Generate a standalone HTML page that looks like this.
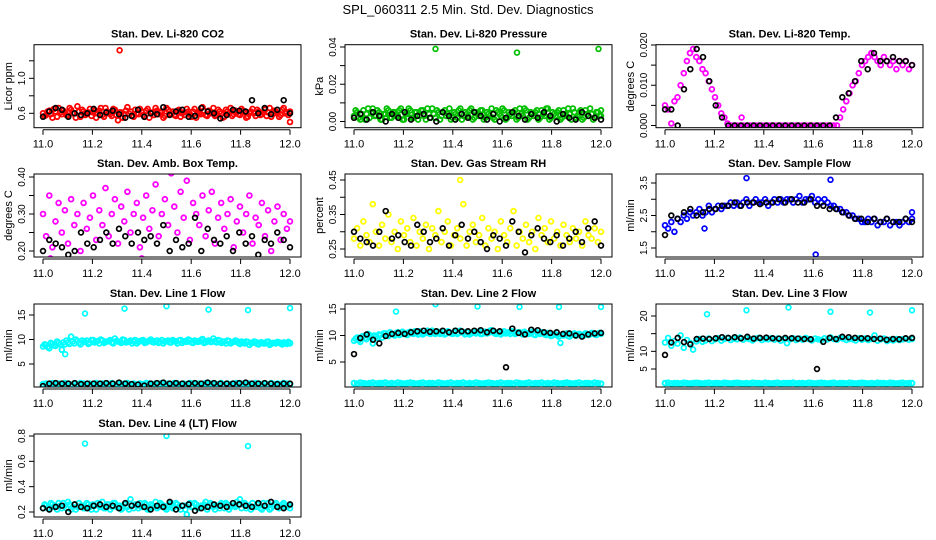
<!DOCTYPE html>
<html><head><meta charset="utf-8"><style>
html,body{margin:0;padding:0;background:#fff;}
svg{display:block;font-family:"Liberation Sans",Arial,sans-serif;}
</style></head><body>
<svg id="chart" width="936" height="540" viewBox="0 0 936 540" xmlns="http://www.w3.org/2000/svg">
<text x="468" y="14" text-anchor="middle" font-size="13">SPL_060311  2.5 Min. Std. Dev. Diagnostics</text>
</svg>
<script>
// ---------- data ----------
const xTicks = [11.0, 11.2, 11.4, 11.6, 11.8, 12.0];
const xTickLabels = ["11.0", "11.2", "11.4", "11.6", "11.8", "12.0"];

const p1Main = [0.6,0.58,0.63,0.55,0.62,0.66,0.59,0.61,0.57,0.64,0.6,0.68,0.56,0.62,0.59,0.65,0.61,0.55,0.63,0.58,0.66,0.6,0.57,0.64,0.52,0.61,0.59,0.67,0.62,0.56,0.6,0.65,0.58,0.63,0.55,0.61,0.66,0.59,0.62,0.57,0.64,0.6,0.58,0.63,0.56,0.61,0.65,0.59,0.62,0.55,0.6,0.67,0.58,0.63,0.61,0.57,0.64,0.6,0.56,0.62,0.66,0.59,0.61,0.58,0.63,0.55,0.6,0.65,0.57,0.62,0.59,0.64,0.61,0.56,0.63,0.6,0.58,0.66,0.61,0.5];
const p1Main2 = [0.57,0.62,0.59,0.65,0.56,0.61,0.63,0.58,0.66,0.6,0.55,0.62,0.64,0.58,0.61,0.57,0.63,0.6,0.66,0.56,0.62,0.59,0.65,0.58,0.61,0.55,0.63,0.6,0.57,0.64,0.59,0.62,0.56,0.65,0.6,0.58,0.63,0.61,0.55,0.66,0.59,0.62,0.57,0.64,0.6,0.58,0.62,0.56,0.65,0.61,0.59,0.63,0.57,0.6,0.66,0.58,0.62,0.55,0.64,0.6,0.57,0.63,0.59,0.65,0.61,0.56,0.62,0.6,0.64,0.58,0.61,0.57,0.66,0.59,0.62,0.56,0.64,0.6,0.58,0.62];
const p1Black = [0.56,0.62,0.66,0.64,0.56,0.6,0.58,0.6,0.65,0.58,0.61,0.63,0.59,0.55,0.57,0.64,0.56,0.6,0.59,0.67,0.58,0.62,0.64,0.56,0.57,0.66,0.62,0.6,0.54,0.58,0.64,0.63,0.62,0.75,0.6,0.66,0.59,0.64,0.75,0.6];
const p1OutT = [11.31];
const p1OutV = [1.32];

const p2Main = [0.003,0.005,0.001,0.006,0.004,0.002,0.007,0.003,0.005,0.001,0.004,0.006,0.002,0.005,0.003,0.007,0.001,0.004,0.006,0.002,0.005,0.003,0.006,0.001,0.004,0.007,0.002,0.005,0.003,0.006,0.004,0.001,0.005,0.002,0.007,0.003,0.004,0.006,0.001,0.005,0.003,0.006,0.002,0.004,0.007,0.001,0.005,0.003,0.006,0.002,0.004,0.005,0.001,0.007,0.003,0.006,0.002,0.004,0.005,0.001,0.006,0.003,0.007,0.002,0.004,0.005,0.001,0.006,0.003,0.004,0.007,0.002,0.005,0.001,0.006,0.003,0.004,0.002,0.005,0.003];
const p2Main2 = [0.006,0.002,0.004,0.001,0.007,0.005,0.003,0.006,0.001,0.004,0.007,0.002,0.005,0.003,0.006,0.001,0.004,0.007,0.002,0.005,0.001,0.006,0.003,0.007,0.002,0.004,0.006,0.001,0.005,0.003,0.007,0.002,0.004,0.006,0.001,0.005,0.003,0.007,0.002,0.004,0.006,0.001,0.005,0.003,0.002,0.006,0.004,0.007,0.001,0.005,0.003,0.006,0.002,0.004,0.007,0.001,0.005,0.003,0.006,0.002,0.004,0.007,0.001,0.005,0.003,0.006,0.002,0.004,0.007,0.001,0.005,0.003,0.006,0.002,0.004,0.007,0.001,0.005,0.003,0.006];
const p2Black = [0.002,0.004,0.001,0.005,0.003,0.0,0.004,0.002,0.005,0.001,0.003,0.004,0.002,0.0,0.005,0.003,0.001,0.004,0.002,0.005,0.003,0.001,0.004,0.0,0.002,0.005,0.003,0.001,0.004,0.002,0.005,0.003,0.0,0.004,0.002,0.001,0.005,0.003,0.002,0.001];
const p2OutT = [11.33, 11.66, 11.99];
const p2OutV = [0.039, 0.037, 0.039];

const p3Main = [0.005,0.004,0.0005,0.006,0.007,0.01,0.013,0.016,0.018,0.019,0.017,0.016,0.014,0.013,0.011,0.009,0.007,0.005,0.003,0.002,0.0005,0,0,0,0,0,0,0,0,0,0,0,0,0,0,0,0,0,0,0,0,0,0,0,0,0,0,0,0,0,0,0,0,0,0,0,0.002,0.004,0.006,0.008,0.01,0.011,0.013,0.015,0.016,0.017,0.018,0.017,0.016,0.015,0.017,0.016,0.015,0.016,0.014,0.016,0.015,0.016,0.014,0.015];
const p3Black = [0.004,0.004,0.0,0.009,0.014,0.019,0.017,0.011,0.005,0.002,0,0,0,0,0,0,0,0,0,0,0,0,0,0,0,0,0,0.002,0.007,0.008,0.011,0.016,0.014,0.018,0.016,0.016,0.017,0.016,0.016,0.015];
const p3OutT = [11.31];
const p3OutV = [0.002];

const p4Main = [0.3,0.24,0.35,0.21,0.28,0.33,0.25,0.31,0.22,0.34,0.27,0.3,0.2,0.33,0.26,0.29,0.35,0.23,0.31,0.27,0.37,0.24,0.3,0.34,0.22,0.32,0.28,0.36,0.25,0.3,0.33,0.21,0.29,0.35,0.26,0.31,0.38,0.24,0.3,0.34,0.27,0.41,0.32,0.25,0.36,0.29,0.39,0.23,0.33,0.3,0.27,0.35,0.24,0.31,0.36,0.22,0.29,0.33,0.26,0.3,0.34,0.21,0.28,0.32,0.25,0.3,0.35,0.22,0.29,0.27,0.33,0.24,0.31,0.2,0.28,0.32,0.23,0.3,0.26,0.28];
const p4Black = [0.2,0.23,0.22,0.21,0.19,0.2,0.25,0.22,0.21,0.23,0.25,0.22,0.26,0.24,0.22,0.25,0.23,0.24,0.22,0.27,0.2,0.23,0.21,0.22,0.29,0.2,0.26,0.23,0.22,0.24,0.2,0.25,0.22,0.24,0.19,0.23,0.22,0.25,0.23,0.21];
const p4OutT = [11.03, 11.4];
const p4OutV = [0.18, 0.18];

const p5Main = [0.28,0.31,0.26,0.33,0.29,0.27,0.38,0.3,0.26,0.32,0.28,0.35,0.27,0.3,0.25,0.33,0.29,0.31,0.27,0.34,0.26,0.3,0.28,0.32,0.25,0.31,0.29,0.36,0.27,0.3,0.33,0.26,0.29,0.31,0.28,0.38,0.26,0.3,0.32,0.27,0.29,0.34,0.26,0.31,0.28,0.3,0.25,0.33,0.29,0.27,0.31,0.36,0.26,0.3,0.28,0.32,0.27,0.3,0.25,0.34,0.29,0.31,0.27,0.33,0.28,0.3,0.26,0.32,0.29,0.27,0.31,0.28,0.3,0.26,0.33,0.29,0.28,0.31,0.27,0.3];
const p5Black = [0.3,0.28,0.27,0.26,0.3,0.36,0.28,0.29,0.27,0.26,0.32,0.3,0.27,0.28,0.31,0.26,0.29,0.32,0.28,0.3,0.27,0.25,0.29,0.28,0.26,0.33,0.3,0.24,0.29,0.31,0.28,0.27,0.29,0.26,0.28,0.3,0.27,0.31,0.33,0.26];
const p5OutT = [11.43];
const p5OutV = [0.45];

const p6Main = [2.2,2.1,2.3,2.0,2.4,2.3,2.5,2.4,2.6,2.5,2.6,2.7,2.5,2.6,2.8,2.6,2.7,2.8,2.7,2.8,2.8,2.9,2.8,2.9,2.8,2.9,3.0,2.8,2.9,3.0,2.9,2.9,3.0,2.8,2.9,3.0,2.9,3.0,2.9,3.0,3.0,2.9,3.0,3.1,2.9,3.0,3.0,3.1,2.9,3.0,2.9,3.0,2.9,2.8,2.8,2.7,2.7,2.6,2.6,2.5,2.5,2.4,2.4,2.3,2.3,2.4,2.3,2.4,2.2,2.3,2.3,2.4,2.2,2.3,2.3,2.2,2.3,2.4,2.3,2.4];
const p6Black = [1.9,2.5,2.4,2.6,2.7,2.5,2.6,2.7,2.7,2.8,2.8,2.9,2.8,2.9,2.9,2.85,2.9,2.9,3.0,2.9,3.0,2.9,2.9,3.0,2.8,2.8,2.7,2.7,2.6,2.5,2.4,2.4,2.3,2.4,2.3,2.4,2.3,2.3,2.4,2.3];
const p6OutT = [11.33, 11.67, 11.61, 11.16, 12.0];
const p6OutV = [3.65, 3.6, 1.3, 2.1, 2.6];

const p7Main = [8.6,8.9,8.2,9.1,8.7,9.3,7.9,9.0,9.4,10.6,9.2,9.7,9.0,9.5,9.8,9.3,9.9,9.6,9.2,9.8,9.5,9.7,9.4,10.2,9.6,9.3,9.9,9.5,9.8,9.6,9.2,9.7,9.9,9.4,9.8,9.5,9.7,9.3,9.9,9.6,9.8,9.4,9.7,9.2,9.9,9.6,9.5,9.8,9.3,9.7,9.6,10.1,9.4,9.8,9.5,9.7,9.9,9.3,9.6,9.8,9.2,9.5,9.7,9.1,9.4,9.6,8.9,9.3,9.5,9.0,9.4,9.2,9.6,9.1,9.3,9.5,9.2,9.4,9.1,9.3];
const p7Main2 = [9.0,8.5,9.3,8.8,9.6,9.0,9.4,9.8,9.1,9.6,10.0,9.3,9.8,9.5,9.1,9.9,9.4,9.7,10.0,9.3,9.6,9.9,9.2,9.7,9.5,10.0,9.4,9.6,9.2,9.9,9.5,9.8,9.3,9.6,10.0,9.4,9.8,9.5,9.2,9.7,9.4,9.9,9.6,9.8,9.3,9.7,10.0,9.4,9.8,9.5,9.9,9.3,9.7,9.5,10.2,9.4,9.8,9.6,9.2,9.7,9.4,9.8,9.3,9.6,9.2,9.5,9.3,9.6,9.1,9.4,9.2,9.5,8.9,9.3,9.2,9.4,9.0,9.3,9.5,9.2];
const p7Low = [0.9,1.0,0.8,1.1,0.9,1.0,0.9,1.1,1.0,0.8,1.0,0.9,1.1,1.0,0.9,1.0,0.8,1.1,0.9,1.0,1.0,0.9,1.1,0.8,1.0,0.9,1.0,1.1,0.9,1.0,0.8,1.0,0.9,1.1,1.0,0.9,1.0,0.8,1.1,0.9,1.0,0.9,1.1,1.0,0.8,1.0,0.9,1.1,1.0,0.9,1.0,0.8,1.1,0.9,1.0,1.0,0.9,1.1,0.8,1.0,0.9,1.0,1.1,0.9,1.0,0.8,1.0,0.9,1.1,1.0,0.9,1.0,0.8,1.1,0.9,1.0,0.9,1.1,1.0,0.9];
const p7Black = [0.5,1.0,1.1,1.0,1.0,1.1,0.9,1.0,1.0,1.0,1.1,1.0,1.2,1.0,0.9,0.8,0.6,1.0,1.1,1.2,1.0,1.1,1.0,1.0,1.1,1.0,1.2,1.1,1.0,1.0,1.0,1.1,1.2,1.0,1.0,1.1,1.0,0.9,1.0,1.0];
const p7OutT = [11.09, 11.17, 11.33, 11.5, 11.67, 11.83, 12.0];
const p7OutV = [7.0, 15.3, 16.3, 16.8, 16.1, 16.0, 16.4];

const p8Main = [9.0,9.6,8.8,9.9,9.3,10.1,8.5,9.8,10.2,9.6,10.4,9.9,10.3,10.0,10.6,10.2,10.5,10.1,10.7,10.3,10.5,10.8,10.2,10.6,10.4,10.9,10.3,10.7,10.5,10.2,10.8,10.4,10.6,10.3,10.9,10.5,10.7,10.2,10.6,10.4,10.8,10.3,10.7,10.5,11.0,10.4,10.6,10.2,10.8,10.5,10.3,10.7,10.4,10.6,10.2,10.5,10.3,10.7,10.1,10.4,10.6,10.2,10.5,9.9,10.3,10.1,8.6,10.0,10.4,9.8,10.2,10.0,10.3,9.9,10.4,10.1,10.5,10.2,10.3,10.4];
const p8Main2 = [9.4,9.1,9.8,9.5,10.3,9.7,10.0,9.5,10.1,10.4,10.0,10.6,10.2,10.5,10.1,10.7,10.3,10.6,10.4,10.8,10.2,10.6,10.4,10.9,10.3,10.7,10.5,10.3,10.8,10.4,10.6,10.3,10.9,10.5,10.7,10.2,10.6,10.4,10.8,10.5,10.3,10.7,10.4,10.9,10.6,10.3,10.7,10.5,10.4,10.6,10.8,10.3,10.6,10.4,10.7,10.3,10.5,10.2,10.6,10.3,10.4,10.1,10.3,10.0,10.2,9.8,10.1,10.3,9.9,10.2,10.4,10.1,10.2,10.0,10.3,10.2,10.4,10.1,10.5,10.3];
const p8Low = [1.0,0.9,1.1,1.0,0.9,1.0,1.1,0.9,1.0,1.0,1.1,0.9,1.0,0.9,1.1,1.0,0.9,1.0,1.1,1.0,0.9,1.0,1.1,0.9,1.0,1.0,0.9,1.1,1.0,0.9,1.0,1.1,0.9,1.0,1.0,1.1,0.9,1.0,0.9,1.1,1.0,0.9,1.0,1.1,1.0,0.9,1.0,1.1,0.9,1.0,1.0,0.9,1.1,1.0,0.9,1.0,1.1,0.9,1.0,1.0,1.1,0.9,1.0,0.9,1.1,1.0,0.9,1.0,1.1,1.0,0.9,1.0,1.1,0.9,1.0,1.0,0.9,1.1,1.0,0.9];
const p8Black = [6.5,9.5,10.2,9.2,8.5,9.9,10.3,10.5,10.3,10.6,10.8,10.9,10.7,10.8,10.9,10.6,10.9,10.8,10.8,10.9,11.0,10.6,10.9,10.8,4.0,11.3,10.5,10.2,11.1,11.0,10.6,10.5,10.6,10.3,10.4,10.0,9.8,10.2,10.4,10.5];
const p8OutT = [11.17, 11.33, 11.5, 11.67, 11.83, 12.0];
const p8OutV = [14.5, 15.9, 15.5, 15.4, 15.4, 15.4];

const p9Main = [12.5,13.8,11.6,12.9,12.2,14.5,11.0,13.2,12.4,10.5,12.8,13.5,12.7,13.1,13.6,12.9,13.4,13.7,13.0,13.5,13.8,13.2,13.6,13.4,13.9,13.3,13.7,13.5,13.1,13.6,13.8,13.2,13.5,13.4,13.7,13.3,13.6,13.0,13.5,12.3,13.4,13.7,13.2,13.6,13.3,13.8,13.5,13.1,13.6,13.4,13.2,13.7,13.4,13.9,13.5,13.3,13.8,13.6,13.2,13.5,13.4,13.1,13.7,13.3,13.6,13.2,13.5,14.5,13.0,13.4,13.6,12.9,13.3,13.1,13.5,13.2,13.4,13.6,13.3,13.5];
const p9Low = [1.0,1.1,0.9,1.0,1.0,0.9,1.1,1.0,0.9,1.0,1.1,1.0,0.9,1.0,1.1,0.9,1.0,1.0,0.9,1.1,1.0,0.9,1.0,1.1,1.0,0.9,1.0,0.9,1.1,1.0,1.0,0.9,1.1,1.0,0.9,1.0,1.1,0.9,1.0,1.0,1.0,1.1,0.9,1.0,1.0,0.9,1.1,1.0,0.9,1.0,1.1,1.0,0.9,1.0,1.1,0.9,1.0,1.0,0.9,1.1,1.0,0.9,1.0,1.1,1.0,0.9,1.0,0.9,1.1,1.0,1.0,0.9,1.1,1.0,0.9,1.0,1.1,0.9,1.0,1.0];
const p9Black = [9.0,12.5,13.8,12.6,12.0,13.5,13.6,13.5,13.7,14.0,13.8,14.0,13.7,14.1,13.6,13.8,13.9,13.7,13.6,13.8,13.7,13.6,13.5,13.4,5.0,12.7,13.8,13.5,14.1,14.0,13.8,13.7,13.7,13.5,13.6,13.3,13.5,13.4,13.7,13.8];
const p9OutT = [11.17, 11.33, 11.5, 11.67, 11.83, 12.0];
const p9OutV = [20.5, 21.6, 22.4, 21.2, 21.0, 21.6];

const p10Main = [0.23,0.25,0.22,0.26,0.24,0.27,0.23,0.25,0.28,0.22,0.26,0.24,0.25,0.23,0.27,0.24,0.26,0.22,0.25,0.28,0.23,0.26,0.24,0.27,0.25,0.22,0.26,0.24,0.3,0.23,0.25,0.27,0.24,0.26,0.22,0.25,0.28,0.24,0.26,0.23,0.25,0.27,0.24,0.26,0.22,0.25,0.18,0.27,0.24,0.26,0.23,0.25,0.28,0.24,0.26,0.22,0.25,0.27,0.23,0.26,0.24,0.25,0.28,0.3,0.26,0.23,0.25,0.27,0.24,0.26,0.22,0.25,0.27,0.23,0.26,0.24,0.25,0.27,0.24,0.26];
const p10Main2 = [0.26,0.23,0.27,0.24,0.22,0.25,0.27,0.23,0.26,0.24,0.22,0.27,0.25,0.23,0.26,0.22,0.25,0.27,0.24,0.23,0.26,0.22,0.27,0.24,0.25,0.23,0.27,0.22,0.25,0.26,0.23,0.24,0.27,0.22,0.26,0.24,0.23,0.27,0.25,0.22,0.26,0.23,0.27,0.24,0.25,0.22,0.26,0.24,0.27,0.23,0.25,0.26,0.22,0.27,0.24,0.25,0.23,0.26,0.27,0.22,0.25,0.24,0.26,0.23,0.27,0.25,0.22,0.24,0.26,0.23,0.27,0.24,0.22,0.25,0.27,0.23,0.26,0.24,0.25,0.23];
const p10Black = [0.23,0.22,0.24,0.25,0.2,0.26,0.24,0.23,0.25,0.26,0.24,0.25,0.23,0.27,0.25,0.26,0.24,0.22,0.25,0.24,0.28,0.22,0.25,0.26,0.21,0.23,0.24,0.26,0.25,0.24,0.27,0.26,0.25,0.24,0.27,0.25,0.28,0.24,0.23,0.26];
const p10OutT = [11.17, 11.5, 11.83];
const p10OutV = [0.74, 0.8, 0.72];

// ---------- layout / panels ----------
const NS = "http://www.w3.org/2000/svg";
const svg = document.getElementById('chart');
const colX = [43, 354, 665];
const rowTop = [44.7, 174, 304, 434];
const BOXH = 83;

const panels = [
  {id:'li820-co2', title:'Stan. Dev. Li-820 CO2', ylab:'Licor ppm', col:0,row:0, color:'#ff0000',
   y1:0.6,py1:113.3,y2:1.0,py2:78.3, ticks:[0.6,0.8,1.0,1.2], labels:["0.6","","1.0",""],
   main:p1Main, main2:p1Main2, low:null, black:p1Black, outT:p1OutT, outV:p1OutV},
  {id:'li820-pressure', title:'Stan. Dev. Li-820 Pressure', ylab:'kPa', col:1,row:0, color:'#00c000',
   y1:0,py1:121.5,y2:0.04,py2:47, ticks:[0,0.01,0.02,0.03,0.04], labels:["0.00","","0.02","","0.04"],
   main:p2Main, main2:p2Main2, low:null, black:p2Black, outT:p2OutT, outV:p2OutV},
  {id:'li820-temp', title:'Stan. Dev. Li-820 Temp.', ylab:'degrees C', col:2,row:0, color:'#ff00ff',
   y1:0,py1:125.5,y2:0.02,py2:45, ticks:[0,0.005,0.01,0.015,0.02], labels:["0.000","","0.010","","0.020"],
   main:p3Main, main2:null, low:null, black:p3Black, outT:p3OutT, outV:p3OutV},
  {id:'amb-box-temp', title:'Stan. Dev. Amb. Box Temp.', ylab:'degrees C', col:0,row:1, color:'#ff00ff',
   y1:0.2,py1:251,y2:0.4,py2:177, ticks:[0.2,0.25,0.3,0.35,0.4], labels:["0.20","","0.30","","0.40"],
   main:p4Main, main2:null, low:null, black:p4Black, outT:p4OutT, outV:p4OutV},
  {id:'gas-stream-rh', title:'Stan. Dev. Gas Stream RH', ylab:'percent', col:1,row:1, color:'#ffff00',
   y1:0.25,py1:249,y2:0.45,py2:180, ticks:[0.25,0.3,0.35,0.4,0.45], labels:["0.25","","0.35","","0.45"],
   main:p5Main, main2:null, low:null, black:p5Black, outT:p5OutT, outV:p5OutV},
  {id:'sample-flow', title:'Stan. Dev. Sample Flow', ylab:'ml/min', col:2,row:1, color:'#0000ff',
   y1:1.5,py1:248,y2:3.5,py2:183, ticks:[1.5,2,2.5,3,3.5], labels:["1.5","","2.5","","3.5"],
   main:p6Main, main2:null, low:null, black:p6Black, outT:p6OutT, outV:p6OutV},
  {id:'line1-flow', title:'Stan. Dev. Line 1 Flow', ylab:'ml/min', col:0,row:2, color:'#00ffff',
   y1:5,py1:364,y2:15,py2:315, ticks:[5,10,15], labels:["5","10","15"],
   main:p7Main, main2:p7Main2, low:p7Low, black:p7Black, outT:p7OutT, outV:p7OutV},
  {id:'line2-flow', title:'Stan. Dev. Line 2 Flow', ylab:'ml/min', col:1,row:2, color:'#00ffff',
   y1:5,py1:362,y2:15,py2:309, ticks:[5,10,15], labels:["5","10","15"],
   main:p8Main, main2:p8Main2, low:p8Low, black:p8Black, outT:p8OutT, outV:p8OutV},
  {id:'line3-flow', title:'Stan. Dev. Line 3 Flow', ylab:'ml/min', col:2,row:2, color:'#00ffff',
   y1:5,py1:369,y2:20,py2:316, ticks:[5,10,15,20], labels:["5","10","","20"],
   main:p9Main, main2:null, low:p9Low, black:p9Black, outT:p9OutT, outV:p9OutV},
  {id:'line4-flow', title:'Stan. Dev. Line 4 (LT) Flow', ylab:'ml/min', col:0,row:3, color:'#00ffff',
   y1:0.2,py1:512,y2:0.8,py2:436, ticks:[0.2,0.4,0.6,0.8], labels:["0.2","0.4","0.6","0.8"],
   main:p10Main, main2:p10Main2, low:null, black:p10Black, outT:p10OutT, outV:p10OutV}
];

function mk(tag, attrs, parent){
  const e = document.createElementNS(NS, tag);
  for (const k in attrs) e.setAttribute(k, attrs[k]);
  (parent||svg).appendChild(e);
  return e;
}

panels.forEach(p => {
  const x0 = colX[p.col], x1 = x0 + 247;
  const sx = t => x0 + (t - 11) * (x1 - x0);
  const sy = v => p.py1 + (v - p.y1) * (p.py2 - p.py1) / (p.y2 - p.y1);
  const left = x0 - 9, right = x1 + 11, top = rowTop[p.row], bottom = top + BOXH;

  const g = mk('g', {});
  
  

  const t = mk('text', {x:(left+right)/2, y: top - 7, 'text-anchor':'middle', 'font-size':'11', 'font-weight':'bold'}, g);
  
  
  t.textContent = p.title;

  const cx = 'clip-' + p.id;
  const cp = mk('clipPath', {id: cx}, g);
  mk('rect', {x:left, y:top, width:right-left, height:BOXH}, cp);
  const pts = mk('g', {'clip-path': 'url(#' + cx + ')'}, g);
  
  

  function drawSeries(arr, color, name, sw, r, off){
    if (!arr) return;
    const n = arr.length;
    arr.forEach((v, i) => {
      const tt = 11 + Math.min(1, (i + off) / (n - 1));
      const c = mk('circle', {cx: sx(tt).toFixed(1), cy: sy(v).toFixed(1), r: r, fill:'none', stroke: color, 'stroke-width': sw}, pts);
      
      
    });
  }
  drawSeries(p.low, p.color, p.id + '-low-point', 2, 2.4, 0);
  drawSeries(p.main, p.color, p.id + '-point', 1.8, 2.4, 0);
  drawSeries(p.main2, p.color, p.id + '-point', 1.8, 2.4, 0.5);
  drawSeries(p.black, '#000000', p.id + '-black-point', 1.7, 2.4, 0);
  p.outT.forEach((tt, i) => {
    const c = mk('circle', {cx: sx(tt).toFixed(1), cy: sy(p.outV[i]).toFixed(1), r: 2.4, fill:'none', stroke: p.color, 'stroke-width': 1.7}, pts);
    
    
  });

  const box = mk('rect', {x:left, y:top, width:right-left, height:BOXH, fill:'none', stroke:'#000', 'stroke-width':1}, g);
  
  

  const ya = mk('g', {}, g);
  
  
  p.ticks.forEach((v, i) => {
    const y = sy(v);
    mk('line', {x1:left-5, x2:left, y1:y, y2:y, stroke:'#000', 'stroke-width':1}, ya);
    if (p.labels[i]) {
      const lt = mk('text', {x:0, y:0, transform:'translate(' + (left-9) + ',' + y + ') rotate(-90)', 'text-anchor':'middle', 'font-size':'10'}, ya);
      
      
      lt.textContent = p.labels[i];
    }
  });
  const yt = mk('text', {x:0, y:0, transform:'translate(' + (left-22) + ',' + (top + BOXH/2) + ') rotate(-90)', 'text-anchor':'middle', 'font-size':'11'}, g);
  
  
  yt.textContent = p.ylab;

  const xa = mk('g', {}, g);
  
  
  mk('line', {x1:sx(11), x2:sx(12), y1:bottom+2, y2:bottom+2, stroke:'#000', 'stroke-width':1}, xa);
  xTicks.forEach((v, i) => {
    const x = sx(v);
    mk('line', {x1:x, x2:x, y1:bottom+2, y2:bottom+7, stroke:'#000', 'stroke-width':1}, xa);
    const lt = mk('text', {x:x, y:bottom+20, 'text-anchor':'middle', 'font-size':'11'}, xa);
    
    
    lt.textContent = xTickLabels[i];
  });
});
</script>
</body></html>
